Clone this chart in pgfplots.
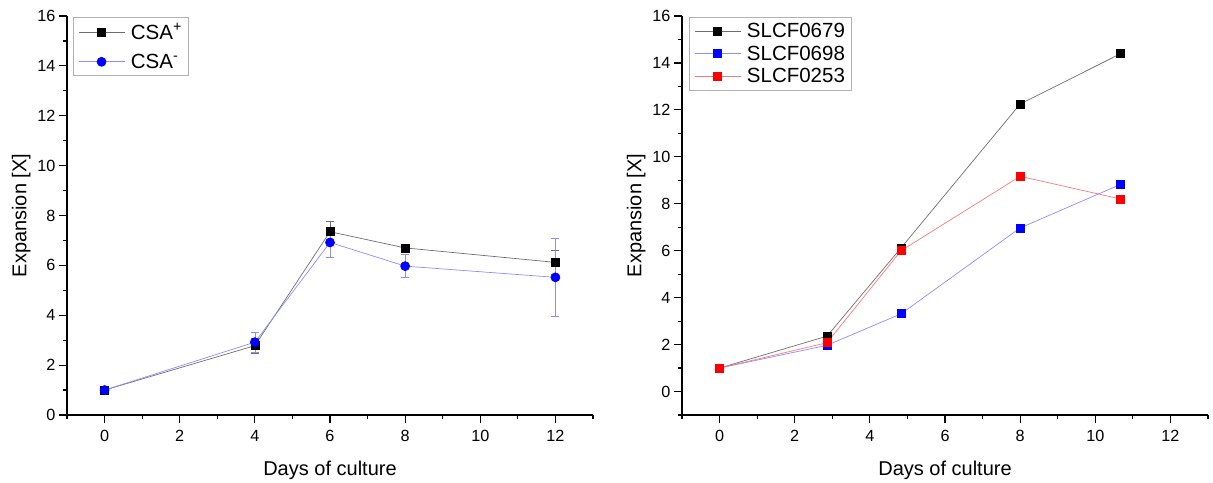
\documentclass[border=0pt]{standalone}
\usepackage{fontspec}
\setmainfont{Liberation Sans}
\usepackage{pgfplots}
\usepackage{pgfplotstable}
\pgfplotsset{compat=1.18}
\definecolor{lgray}{RGB}{110,110,110}
\definecolor{lblue}{RGB}{140,140,255}
\definecolor{lred}{RGB}{255,120,120}
\pgfplotstableread{
x y e
0 1 0
4 2.78 0.3
6 7.35 0.42
8 6.7 0.1
12 6.12 0.47
}\csaplus
\pgfplotstableread{
x y e
0 1 0
4 2.92 0.4
6 6.92 0.6
8 5.97 0.46
12 5.52 1.56
}\csaminus
\pgfplotstableread{
x y
0 1
2.86 2.36
4.83 6.12
8 12.25
10.68 14.4
}\slcfa
\pgfplotstableread{
x y
0 1
2.86 1.97
4.83 3.31
8 6.97
10.68 8.83
}\slcfb
\pgfplotstableread{
x y
0 1
2.86 2.08
4.83 6.0
8 9.17
10.68 8.2
}\slcfc
\pgfplotsset{
  myax/.style={
    scale only axis, width=526pt, height=399pt,
    axis lines*=left,
    xmin=-1, xmax=13, ymax=16,
    xtick={0,2,...,12}, minor xtick={-1,1,...,13},
    ytick={0,2,...,16},
    tick align=outside, major tick length=8pt, minor tick length=4pt,
    axis line style={line width=1.2pt},
    every tick/.style={line width=1.2pt, black},
    ticklabel style={font=\fontsize{16.2}{19}\selectfont},
    xticklabel style={yshift=-4pt},
    /pgf/number format/assume math mode=true,
    label style={font=\fontsize{20}{24}\selectfont},
    xlabel style={yshift=-12pt},
    xlabel={Days of culture}, ylabel={Expansion [X]},
    legend cell align=left,
    legend style={anchor=north west, draw=gray!60, line width=0.8pt,
      font=\fontsize{20.5}{24}\selectfont, inner sep=4pt},
    legend image code/.code={\draw[mark repeat=2,mark phase=2] plot coordinates {(0pt,0pt)(23pt,0pt)(46pt,0pt)};
      \path (-1pt,0pt) (50pt,0pt);},
    clip=false,
  }
}
\begin{document}
\begin{tikzpicture}[x=1pt,y=1pt]
\path[use as bounding box] (0,0) rectangle (1213,482);
\begin{axis}[myax, at={(67pt,67pt)}, anchor=south west, ymin=0,
  minor ytick={1,3,...,15},
  legend style={at={(rel axis cs:0.011,0.997)}, row sep=9pt}]
\addplot[lgray, line width=0.7pt, mark=square*, mark size=4pt,
  mark options={solid, fill=black, draw=black},
  error bars/.cd, y dir=both, y explicit,
  error bar style={lgray, line width=0.7pt},
  error mark options={rotate=90, mark size=4pt, lgray, line width=0.7pt}]
  table[x=x, y=y, y error=e] {\csaplus};
\addlegendentry{CSA\textsuperscript{+}}
\addplot[lblue, line width=0.7pt, mark=*, mark size=4.5pt,
  mark options={solid, fill=blue, draw=blue},
  error bars/.cd, y dir=both, y explicit,
  error bar style={lblue, line width=0.7pt},
  error mark options={rotate=90, mark size=4pt, lblue, line width=0.7pt}]
  table[x=x, y=y, y error=e] {\csaminus};
\addlegendentry{CSA\textsuperscript{-}}
\end{axis}
\begin{axis}[myax, at={(682pt,67pt)}, anchor=south west, ymin=-1,
  minor ytick={-1,1,...,15},
  legend style={at={(rel axis cs:0.013,0.997)}, row sep=2.5pt}]
\addplot[lgray, line width=0.7pt, mark=square*, mark size=4pt,
  mark options={solid, fill=black, draw=black}] table {\slcfa};
\addlegendentry{SLCF0679}
\addplot[lblue, line width=0.7pt, mark=square*, mark size=4pt,
  mark options={solid, fill=blue, draw=blue}] table {\slcfb};
\addlegendentry{SLCF0698}
\addplot[lred, line width=0.7pt, mark=square*, mark size=4pt,
  mark options={solid, fill=red, draw=red}] table {\slcfc};
\addlegendentry{SLCF0253}
\end{axis}
\end{tikzpicture}
\end{document}
